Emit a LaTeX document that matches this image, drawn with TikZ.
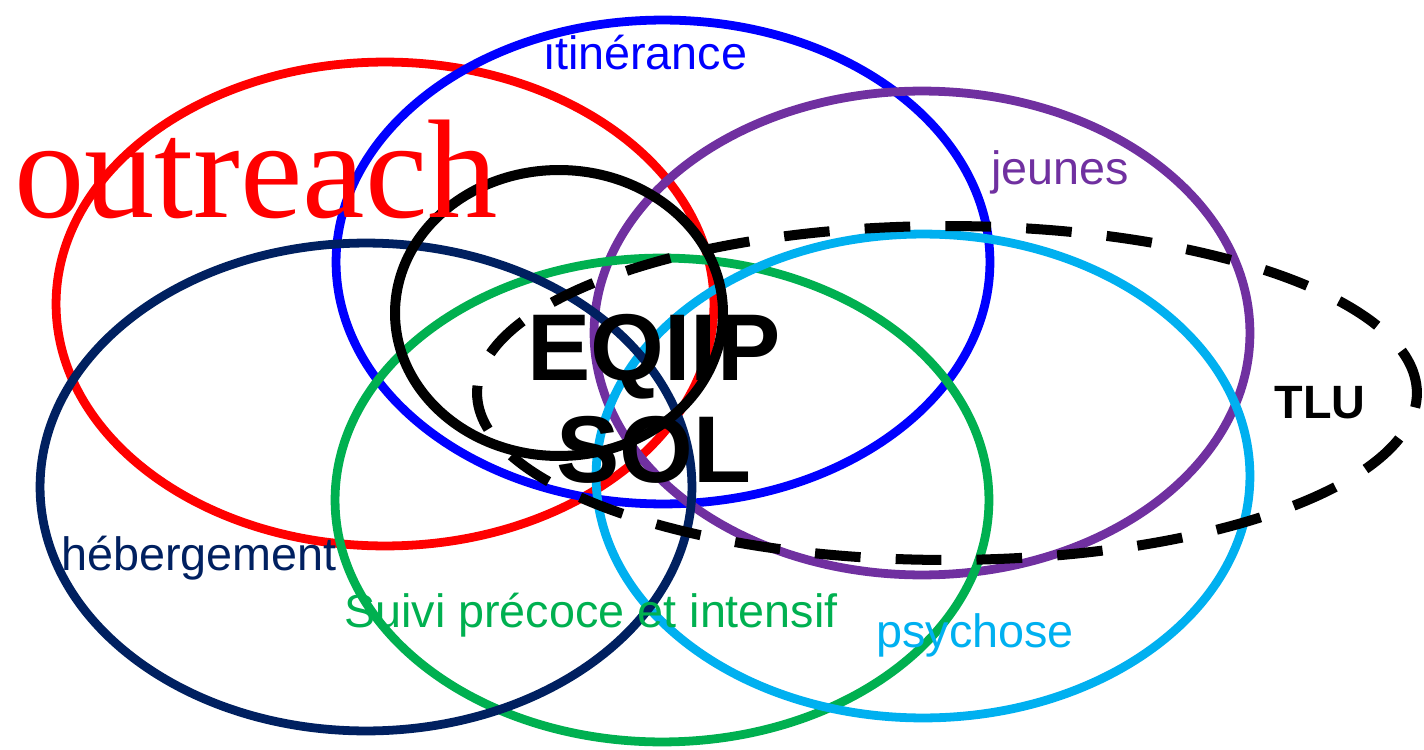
\documentclass[tikz,border=0pt]{standalone}
\usepackage{fontspec}
\setmainfont{Liberation Sans}
\newfontfamily\serifface{Liberation Serif}
\definecolor{cred}{HTML}{FF0000}
\definecolor{cblue}{HTML}{0000FF}
\definecolor{cpurple}{HTML}{7030A0}
\definecolor{cnavy}{HTML}{002060}
\definecolor{cgreen}{HTML}{00B050}
\definecolor{clight}{HTML}{00B0F0}
\begin{document}
\begin{tikzpicture}[x=0.02cm,y=-0.02cm,
  ring/.style={line width=5pt},
  lbl/.style={anchor=base,inner sep=0pt,font=\fontsize{26.6}{30}\selectfont},
  bigl/.style={anchor=base,inner sep=0pt,font=\fontsize{54}{60}\selectfont\bfseries}]
\useasboundingbox (0,0) rectangle (1424,750);
% ellipse centres
\coordinate (red) at (385,304);
\coordinate (blue) at (663,262);
\coordinate (purple) at (922,333);
\coordinate (navy) at (366,487);
\coordinate (green) at (662,500);
\coordinate (light) at (923,476);
\coordinate (core) at (559,313);
\coordinate (tlu) at (947,393);
\draw[ring,cred] (red) ellipse [x radius=6.58cm, y radius=4.84cm];
\draw[ring,cblue] (blue) ellipse [x radius=6.54cm, y radius=4.84cm];
\draw[ring,cpurple] (purple) ellipse [x radius=6.56cm, y radius=4.84cm];
\draw[ring,cgreen] (green) ellipse [x radius=6.54cm, y radius=4.84cm];
\draw[ring,clight] (light) ellipse [x radius=6.54cm, y radius=4.84cm];
\draw[ring,cnavy] (navy) ellipse [x radius=6.52cm, y radius=4.88cm];
\draw[line width=5.7pt,black,dash pattern=on 26pt off 20pt] (tlu) ellipse [x radius=9.4cm, y radius=3.34cm];
\draw[line width=5.7pt,black] (core) ellipse [x radius=3.28cm, y radius=2.86cm];
% labels
\node[lbl,text=cblue] (l1) at (646,70) {itinérance};
\node[anchor=base,inner sep=0pt,text=cred,font=\fontsize{80}{90}\selectfont\serifface] (l2) at (256,217) {outreach};
\node[lbl,text=cpurple] (l3) at (1060,185) {jeunes};
\node[lbl,text=cnavy] (l4) at (199,570) {hébergement};
\node[lbl,text=cgreen] (l5) at (591,627) {Suivi précoce et intensif};
\node[lbl,text=clight] (l6) at (975,647) {psychose};
\node[lbl,font=\fontsize{26.6}{30}\selectfont\bfseries] (l7) at (1320,418) {TLU};
\node[bigl] (l8) at (654,380) {EQIIP};
\node[bigl] (l9) at (654,482) {SOL};
\end{tikzpicture}
\end{document}
